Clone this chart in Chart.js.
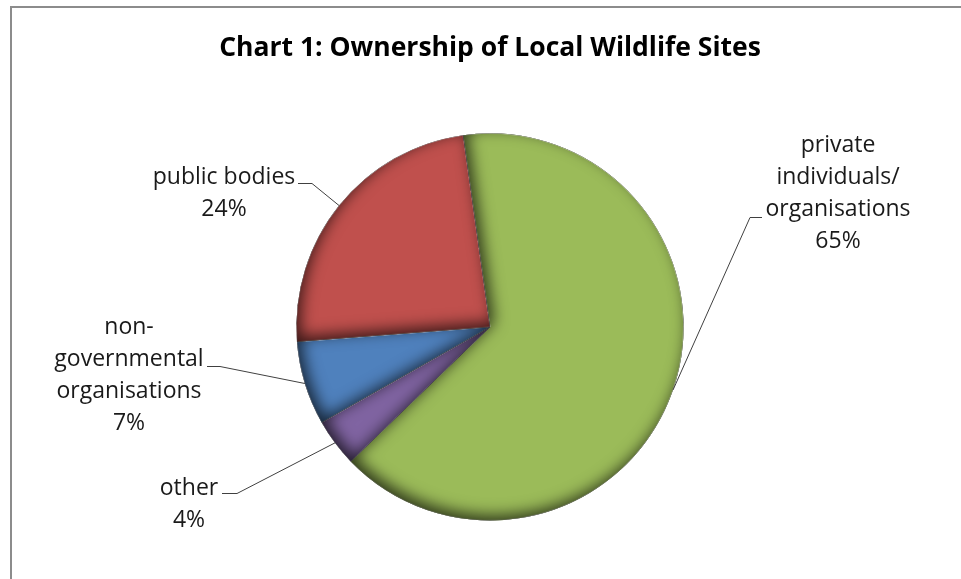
<!DOCTYPE html>
<html>
<head>
<meta charset="utf-8">
<title>Ownership of Local Wildlife Sites</title>
<script src="https://cdn.jsdelivr.net/npm/chart.js@4.4.1/dist/chart.umd.min.js"></script>
<style>
  html, body { margin: 0; padding: 0; background: #fff; }
  canvas { display: block; }
</style>
</head>
<body>
<canvas id="chart" width="961" height="579"></canvas>
<script>
// ownership shares (%), clockwise from the top
const categories = [
  ['private', 'individuals/', 'organisations'],
  ['other'],
  ['non-', 'governmental', 'organisations'],
  ['public bodies']
];
const shares = [65, 4, 7, 24];
const colours = ['#9BBB59', '#8064A2', '#4F81BD', '#C0504D'];

// where each label block sits and where its leader tick starts/ends
const labelBoxes = [
  { cx: 838, top: 145, tick: [762, 217, 750] },
  { cx: 189, top: 488, tick: [222, 493, 237] },
  { cx: 129, top: 327, tick: [207, 366, 220] },
  { cx: 224, top: 177, tick: [298, 183, 312] }
];
const lineHeight = 32;
const labelFont = '23px "Open Sans", Lato, sans-serif';

// frame around the chart object
const frame = {
  id: 'frame',
  beforeDraw(chart) {
    const ctx = chart.ctx;
    ctx.save();
    ctx.strokeStyle = '#8c8c8c';
    ctx.lineWidth = 2;
    ctx.strokeRect(11, 7, 1200, 1200);
    ctx.restore();
  }
};

// soft inner shadow on each slice (dark towards the bottom-left)
const bevel = {
  id: 'bevel',
  afterDatasetDraw(chart) {
    const ctx = chart.ctx;
    chart.getDatasetMeta(0).data.forEach(arc => {
      const p = arc.getProps(['x', 'y', 'startAngle', 'endAngle', 'outerRadius'], true);
      const slice = () => {
        ctx.moveTo(p.x, p.y);
        ctx.arc(p.x, p.y, p.outerRadius, p.startAngle, p.endAngle);
        ctx.closePath();
      };
      ctx.save();
      ctx.beginPath();
      slice();
      ctx.clip();
      ctx.beginPath();
      ctx.rect(p.x - 1000, p.y - 1000, 2000, 2000);
      slice();
      ctx.shadowColor = 'rgba(0,0,0,0.7)';
      ctx.shadowBlur = 15;
      ctx.shadowOffsetX = 4;
      ctx.shadowOffsetY = -5;
      ctx.fillStyle = '#000';
      ctx.fill('evenodd');
      ctx.restore();
    });
  }
};

// outside labels with leader lines to the middle of each slice edge
const outsideLabels = {
  id: 'outsideLabels',
  afterDraw(chart) {
    const ctx = chart.ctx;
    ctx.save();
    chart.getDatasetMeta(0).data.forEach((arc, i) => {
      const p = arc.getProps(['x', 'y', 'startAngle', 'endAngle', 'outerRadius'], true);
      const mid = (p.startAngle + p.endAngle) / 2;
      const ex = p.x + Math.cos(mid) * p.outerRadius;
      const ey = p.y + Math.sin(mid) * p.outerRadius;
      const box = labelBoxes[i];
      const [tx, ty, elbow] = box.tick;

      ctx.strokeStyle = '#404040';
      ctx.lineWidth = 1;
      ctx.beginPath();
      ctx.moveTo(tx, ty + 0.5);
      ctx.lineTo(elbow, ty + 0.5);
      ctx.lineTo(ex, ey);
      ctx.stroke();

      const lines = categories[i].concat(shares[i] + '%');
      ctx.fillStyle = '#1a1a1a';
      ctx.font = labelFont;
      ctx.textAlign = 'center';
      ctx.textBaseline = 'middle';
      lines.forEach((t, k) => ctx.fillText(t, box.cx, box.top + k * lineHeight));
    });
    ctx.restore();
  }
};

new Chart(document.getElementById('chart'), {
  type: 'pie',
  data: {
    labels: categories.map(c => c.join(' ')),
    datasets: [{
      data: shares,
      backgroundColor: colours,
      borderColor: 'rgba(255,255,255,0.45)',
      borderWidth: 1
    }]
  },
  options: {
    responsive: false,
    animation: false,
    rotation: -8,
    layout: { padding: { left: 190, right: 171, top: 0, bottom: 58 } },
    plugins: {
      legend: { display: false },
      tooltip: { enabled: false },
      title: {
        display: true,
        text: 'Chart 1: Ownership of Local Wildlife Sites',
        color: '#000',
        font: { family: '"Open Sans", Lato, sans-serif', size: 26.5, weight: 'bold', lineHeight: 1.2 },
        padding: { top: 33, bottom: 68 }
      }
    }
  },
  plugins: [frame, bevel, outsideLabels]
});
</script>
</body>
</html>
